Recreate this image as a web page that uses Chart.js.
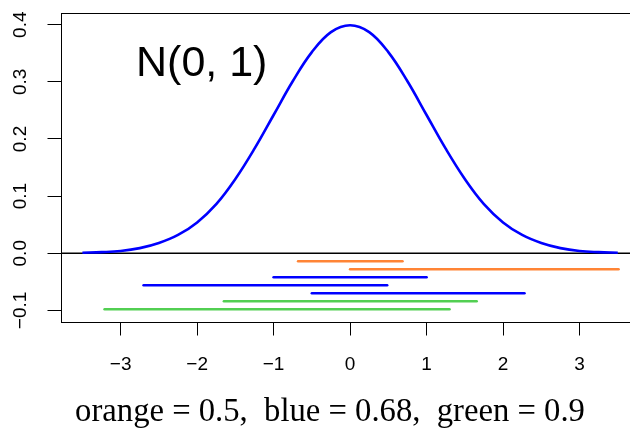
<!DOCTYPE html>
<html><head><meta charset="utf-8">
<script src="https://cdn.jsdelivr.net/npm/chart.js@4.4.1/dist/chart.umd.min.js"></script>
<style>html,body{margin:0;padding:0;background:#fff}#wrap{width:630px;height:432px}</style>
</head><body><div id="wrap"><canvas id="c" width="630" height="432"></canvas></div>
<script>
// density curve values
const curveX = [-3.5,-3.25,-3,-2.75,-2.5,-2.25,-2,-1.75,-1.5,-1.25,-1,-0.75,-0.5,-0.25,0,0.25,0.5,0.75,1,1.25,1.5,1.75,2,2.25,2.5,2.75,3,3.25,3.5];
const curveY = [0.001,0.002,0.004,0.009,0.018,0.032,0.054,0.086,0.130,0.183,0.242,0.301,0.352,0.387,0.399,0.387,0.352,0.301,0.242,0.183,0.130,0.086,0.054,0.032,0.018,0.009,0.004,0.002,0.001];
// interval segments
const segGroup = ['orange','orange','blue','blue','blue','green','green'];
const segLo = [-0.68, 0.0, -1.0, -2.70, -0.50, -1.65, -3.21];
const segHi = [0.685, 3.51, 1.0, 0.485, 2.28, 1.655, 1.30];
const segLevel = [-0.014,-0.028,-0.042,-0.056,-0.070,-0.084,-0.098];
const xTicks = [-3,-2,-1,0,1,2,3];
const yTicks = [-0.1,0,0.1,0.2,0.3,0.4];
const yTickLabels = ['\u22120.1','0.0','0.1','0.2','0.3','0.4'];
const xTickLabels = ['\u22123','\u22122','\u22121','0','1','2','3'];
const caption = 'orange = 0.5,  blue = 0.68,  green = 0.9';
const title = 'N(0, 1)';
const titleAt = {x:-1.94, y:0.31};

const colorOf = {orange:'#FF8435', blue:'#0000FF', green:'#52CF52'};

const datasets = [];
datasets.push({data: curveX.map((x,i)=>({x, y: curveY[i]})), borderColor:'#0000FF', borderWidth:2.6, pointRadius:0, tension:0.4, fill:false});
datasets.push({data:[{x:-3.78,y:0},{x:3.66,y:0}], borderColor:'#000', borderWidth:1.3, pointRadius:0, fill:false});
segLo.forEach((lo,i)=>{
  datasets.push({data:[{x:lo,y:segLevel[i]},{x:segHi[i],y:segLevel[i]}], borderColor:colorOf[segGroup[i]], borderWidth:2.6, pointRadius:0, borderCapStyle:'round', fill:false});
});

const deco = {
  id:'deco',
  afterDraw(chart){
    const ctx = chart.ctx, a = chart.chartArea, xs = chart.scales.x, ys = chart.scales.y;
    ctx.save();
    ctx.strokeStyle='#000'; ctx.lineWidth=1;
    ctx.strokeRect(a.left+0.5, a.top+0.5, a.right-a.left+5, a.bottom-a.top);
    ctx.fillStyle='#000';
    // y labels rotated
    ctx.font='19px "Liberation Sans", Arial, sans-serif';
    yTicks.forEach((v,i)=>{
      const py = ys.getPixelForValue(v);
      ctx.save(); ctx.translate(26, py); ctx.rotate(-Math.PI/2);
      ctx.textAlign='center'; ctx.textBaseline='alphabetic';
      ctx.fillText(yTickLabels[i],0,0); ctx.restore();
    });
    // x labels
    ctx.textAlign='center'; ctx.textBaseline='alphabetic';
    xTicks.forEach((v,i)=>{ ctx.fillText(xTickLabels[i], xs.getPixelForValue(v), 370); });
    // title text
    ctx.font='43px "Liberation Sans", Arial, sans-serif';
    ctx.fillText(title, xs.getPixelForValue(titleAt.x), ys.getPixelForValue(titleAt.y));
    // caption
    ctx.font='24px "Liberation Serif", "Times New Roman", serif';
    const w = ctx.measureText(caption).width;
    const size = 24*510/w;
    ctx.font=size.toFixed(2)+'px "Liberation Serif", "Times New Roman", serif';
    ctx.fillText(caption, 330, 421);
    ctx.restore();
  }
};

new Chart(document.getElementById('c'), {
  type:'line',
  data:{datasets},
  options:{
    responsive:false, animation:false, devicePixelRatio:1,
    layout:{padding:{top:13,right:0,left:0,bottom:0}},
    plugins:{legend:{display:false}, tooltip:{enabled:false}},
    scales:{
      x:{type:'linear', min:-3.78, max:3.66,
        afterBuildTicks(s){ s.ticks = xTicks.map(v=>({value:v})); },
        afterFit(s){ s.height = 110; },
        ticks:{display:false},
        grid:{drawOnChartArea:false, drawTicks:true, tickLength:13.5, color:'#000', lineWidth:1},
        border:{display:true, color:'#000', width:1}},
      y:{type:'linear', min:-0.1203, max:0.4205,
        afterBuildTicks(s){ s.ticks = yTicks.map(v=>({value:v})); },
        afterFit(s){ s.width = 61; },
        ticks:{display:false},
        grid:{drawOnChartArea:false, drawTicks:true, tickLength:13.5, color:'#000', lineWidth:1},
        border:{display:true, color:'#000', width:1}}
    }
  },
  plugins:[deco]
});
</script></body></html>
